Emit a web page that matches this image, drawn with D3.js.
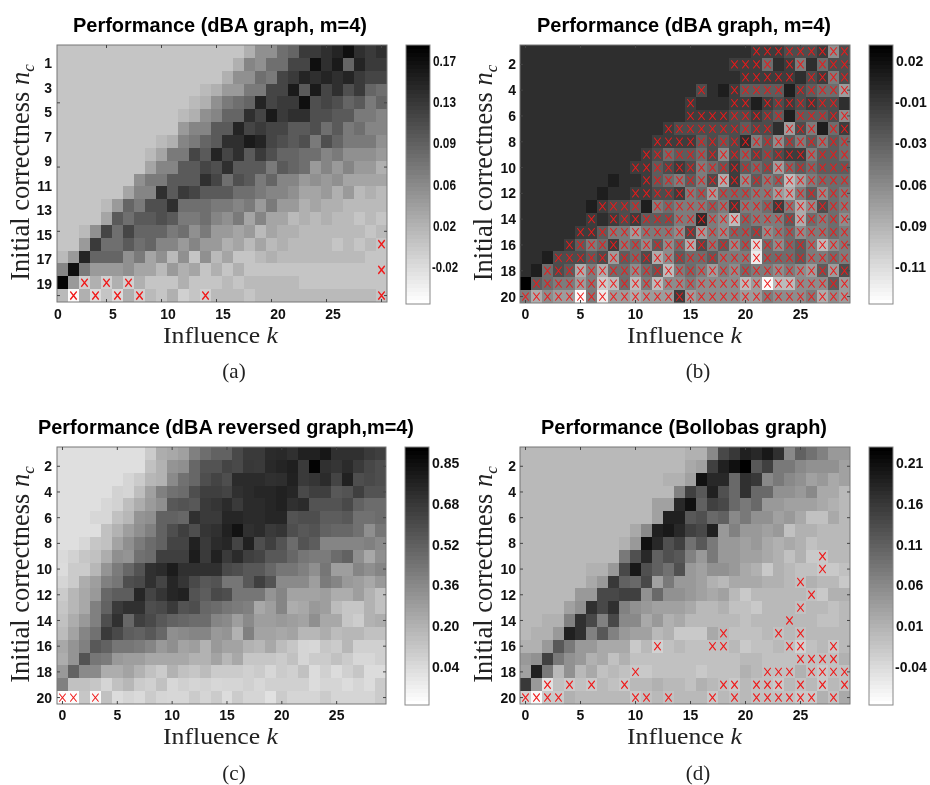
<!DOCTYPE html>
<html>
<head>
<meta charset="utf-8">
<script src="https://cdn.jsdelivr.net/npm/d3@7"></script>
<style>
  body { margin: 0; background: #fff; }
  svg { display: block; filter: blur(0.6px); }
  .tick-num { font: bold 14px "Liberation Sans", sans-serif; fill: #111; }
  .title { font: bold 20px "Liberation Sans", sans-serif; fill: #000; }
  .serif { font-family: "Liberation Serif", serif; fill: #222; }
</style>
</head>
<body>
<div id="chart"></div>
<script>
const perfA = [
  [0,0,0,0,0,0,0,0,0,0,0,0,0,0,0,0,0,2,5,5,8,9,13,13,14,15,17,14,13,14],
  [0,0,0,0,0,0,0,0,0,0,0,0,0,0,0,0,2,6,5,8,8,12,12,17,14,16,9,15,13,13],
  [0,0,0,0,0,0,0,0,0,0,0,0,0,0,0,2,5,5,8,7,12,13,15,14,15,14,15,13,12,12],
  [0,0,0,0,0,0,0,0,0,0,0,0,0,1,2,4,4,7,7,12,12,16,10,16,12,14,11,13,9,8],
  [0,0,0,0,0,0,0,0,0,0,0,0,1,2,5,7,8,9,15,12,13,13,17,11,12,11,9,10,7,9],
  [0,0,0,0,0,0,0,0,0,0,0,1,2,5,6,9,9,14,12,16,13,14,14,11,11,10,10,7,7,6],
  [0,0,0,0,0,0,0,0,0,0,0,4,6,6,10,10,15,12,13,12,12,10,10,11,8,10,7,8,6,6],
  [0,0,0,0,0,0,0,0,0,1,2,6,7,9,10,14,14,16,15,12,11,10,11,7,11,9,7,7,7,5],
  [0,0,0,0,0,0,0,0,1,3,7,7,12,10,15,12,14,10,13,11,9,9,8,8,6,7,5,5,5,4],
  [0,0,0,0,0,0,0,0,3,6,6,10,10,12,11,14,10,10,10,7,10,9,8,4,6,4,6,4,4,2],
  [0,0,0,0,0,0,0,5,7,7,10,10,10,14,12,8,11,10,7,9,6,6,4,5,4,5,3,3,3,3],
  [0,0,0,0,0,0,3,6,6,14,10,13,12,10,10,10,8,8,7,6,6,5,3,3,4,2,4,1,2,1],
  [0,0,0,0,1,4,9,7,11,11,14,8,8,8,7,7,6,7,4,7,4,4,2,3,2,2,1,1,1,1],
  [0,0,0,0,3,10,8,10,10,11,10,7,7,8,6,5,7,3,6,3,3,1,2,1,2,1,1,0,1,0],
  [0,0,1,5,12,8,12,9,9,9,7,8,5,7,4,4,3,4,1,3,2,2,1,1,1,1,1,1,0,1],
  [0,0,4,13,8,8,10,8,9,6,6,4,6,4,4,2,3,1,3,1,2,1,1,1,1,0,1,0,1,0],
  [1,4,15,9,9,9,5,7,3,5,1,5,0,5,1,3,0,0,1,2,1,1,1,1,1,1,1,1,0,0],
  [6,17,7,4,4,4,5,3,3,1,4,2,3,0,2,0,2,0,0,0,0,0,0,0,0,0,0,0,0,0],
  [18,4,-1,2,-1,2,-1,2,0,0,0,2,0,0,0,1,0,1,1,1,1,1,0,0,0,0,0,0,0,0],
  [1,-5,2,-2,0,-2,2,-1,1,0,2,-1,0,-1,1,1,1,0,1,1,1,1,1,1,1,1,1,1,1,0]
];
const perfB = [
  [0,0,0,0,0,0,0,0,0,0,0,0,0,0,0,0,0,0,0,0,0,-1,-1,-1,-2,-2,-2,-1,-6,-2],
  [0,0,0,0,0,0,0,0,0,0,0,0,0,0,0,0,0,0,0,-1,-1,-1,-4,0,-1,-5,0,-4,-2,-2],
  [0,0,0,0,0,0,0,0,0,0,0,0,0,0,0,0,0,0,0,0,-1,-1,-1,-1,-1,0,-2,-1,-5,-2],
  [0,0,0,0,0,0,0,0,0,0,0,0,0,0,0,0,-2,0,1,-1,-3,-3,-3,-3,1,-2,-3,-4,-4,-7],
  [0,0,0,0,0,0,0,0,0,0,0,0,0,0,0,-1,0,0,0,-1,-1,1,-1,-2,-1,-2,-1,-2,-2,0],
  [0,0,0,0,0,0,0,0,0,0,0,0,0,0,0,-1,-1,-1,-1,-2,-2,-1,-2,-3,1,-3,-3,-3,-2,-6],
  [0,0,0,0,0,0,0,0,0,0,0,0,0,-1,-2,-2,-2,-2,-2,-2,-3,-2,-2,0,-7,-2,-5,1,-4,-1],
  [0,0,0,0,0,0,0,0,0,0,0,0,-1,-1,-1,-1,-3,-2,-3,-2,0,-5,-3,-6,-3,-5,-3,-5,-3,-4],
  [0,0,0,0,0,0,0,0,0,0,0,-1,-2,-4,-3,-3,-4,-2,-6,-2,-4,-2,-3,-2,-1,-1,-5,-3,-3,-4],
  [0,0,0,0,0,0,0,0,0,0,-1,-1,-3,-2,-1,-2,-5,-4,-3,-1,-3,-4,-3,-7,-4,-3,-4,-3,-3,-3],
  [0,0,0,0,0,0,0,0,1,0,0,-1,-3,-4,-5,-3,-5,-2,-8,-1,-6,-3,-5,-4,-9,-7,-5,-4,-4,-4],
  [0,0,0,0,0,0,0,1,0,0,-1,-1,-2,-2,-1,-5,-4,-7,-4,-4,-4,-5,-5,-7,-8,-5,-3,-6,-4,-5],
  [0,0,0,0,0,0,1,-1,-2,-2,-3,1,-5,-4,-5,-5,-5,-4,-5,-1,-5,-5,-4,-1,-5,-8,-6,-2,-4,-5],
  [0,0,0,0,0,0,-1,0,-1,-2,-1,-3,-3,-3,-5,-5,0,-5,-6,-9,-4,-5,-5,-5,-3,-8,-4,-5,-4,-6],
  [0,0,0,0,0,-1,-1,-3,-5,-5,-7,-5,-5,-5,-6,-2,-7,-5,-6,-4,-4,-3,-6,-5,-4,-6,-5,-5,-4,-5],
  [0,0,0,0,-1,-3,-5,-4,-1,-5,-4,-6,-3,-6,-4,-8,-2,-5,-3,-6,-4,-11,-4,-6,-4,-3,-5,-9,-6,-5],
  [0,0,1,-2,-2,-2,-3,-2,-7,-3,-4,-2,-8,-6,-3,-4,-4,-3,-5,-5,-5,-12,-4,-4,-4,-3,-5,-5,-4,-5],
  [0,1,-4,-2,-3,-8,-5,-8,-4,-4,-6,-4,-3,-9,-5,-4,-5,-7,-5,-6,-4,-5,-5,-6,-5,-6,-7,-3,-7,-2],
  [3,-3,-4,-5,-5,-7,-5,-10,-9,-4,-9,-5,-9,-6,-6,-5,-6,-6,-6,-6,-9,-7,-13,-9,-9,-6,-6,-6,-3,-7],
  [-5,-8,-6,-7,-7,-13,-5,-12,-7,-7,-8,-7,-7,-7,-1,-7,-6,-6,-6,-6,-7,-7,-5,-6,-6,-6,-5,-8,-6,-7]
];
const perfC = [
  [2,2,2,2,2,2,2,2,10,22,24,27,40,47,52,52,62,68,68,74,75,72,78,78,82,72,72,72,68,66],
  [2,2,2,2,2,2,2,2,14,20,32,34,50,58,58,64,62,69,68,75,77,79,68,90,72,70,74,68,63,60],
  [2,2,2,2,2,2,6,10,18,20,36,46,50,60,64,60,74,74,74,72,73,78,68,70,74,64,78,60,62,60],
  [2,2,2,2,2,7,6,15,27,40,46,48,60,66,66,64,72,74,76,76,78,76,62,66,66,56,58,66,58,58],
  [2,2,2,2,5,7,15,22,29,34,56,58,56,68,70,74,68,74,74,76,78,72,74,58,58,58,62,52,48,48],
  [2,2,2,5,5,14,18,32,34,52,52,50,72,68,68,76,76,74,74,76,76,58,60,60,54,54,56,46,46,48],
  [2,2,2,2,14,20,28,34,40,52,60,66,60,70,72,78,84,72,74,68,70,60,56,58,52,50,50,46,34,44],
  [2,2,5,12,14,26,34,42,48,52,64,64,78,68,74,76,64,78,60,66,58,48,58,54,38,38,38,38,40,36],
  [4,7,12,14,22,34,32,46,48,66,66,66,80,68,78,68,74,66,64,56,56,50,44,42,42,48,52,34,24,34],
  [3,10,10,18,32,42,50,58,72,74,80,72,72,72,72,62,60,56,56,50,44,44,40,34,44,28,28,38,34,38],
  [6,10,22,28,40,44,60,62,72,64,76,70,62,56,58,44,44,56,66,58,36,36,36,28,42,38,30,28,24,30],
  [10,18,24,30,50,54,54,76,64,70,76,78,58,54,62,60,44,44,44,32,38,26,26,26,28,22,22,28,20,14],
  [12,18,24,40,52,68,72,72,60,62,68,58,60,50,48,44,42,40,24,28,38,22,24,30,28,16,12,12,20,14],
  [14,22,30,40,60,72,50,66,62,56,52,50,48,48,38,36,28,36,28,28,30,28,26,34,24,24,12,9,20,22],
  [16,26,38,46,68,62,54,52,56,50,34,36,38,38,30,32,20,40,26,26,24,26,18,18,22,16,18,18,14,14],
  [24,32,40,56,52,44,44,42,38,30,34,26,28,20,30,26,26,20,18,24,16,12,6,5,12,10,18,8,8,8],
  [22,32,58,44,42,30,28,28,24,24,24,24,20,20,26,18,24,12,12,12,10,14,6,10,10,14,10,5,5,8],
  [30,52,36,36,22,22,26,20,14,10,20,14,12,16,10,10,10,8,10,5,10,8,14,3,8,3,8,12,3,3],
  [40,14,14,12,6,14,18,10,8,14,5,8,6,7,5,6,6,8,5,8,8,8,8,3,6,6,3,6,3,10],
  [-10,-10,12,-8,14,3,6,4,10,6,5,5,10,6,10,3,10,6,6,1,10,6,6,6,10,6,6,6,6,10]
];
const perfD = [
  [0,0,0,0,0,0,0,0,0,0,0,0,0,0,0,1,1,6,14,16,19,18,20,17,6,11,9,7,4,4],
  [0,0,0,0,0,0,0,0,0,0,0,0,0,0,0,2,3,15,19,21,23,12,15,8,8,6,5,5,5,3],
  [0,0,0,0,0,0,0,0,0,0,0,0,0,1,1,3,21,18,18,10,17,16,6,8,6,5,3,4,2,3],
  [0,0,0,0,0,0,0,0,0,0,0,0,0,0,7,15,12,19,13,10,17,10,10,5,5,4,6,2,2,0],
  [0,0,0,0,0,0,0,0,0,0,0,0,3,3,18,21,11,15,14,10,8,10,4,4,3,3,3,2,1,0],
  [0,0,0,0,0,0,0,0,0,0,0,0,3,19,19,12,13,10,11,6,8,5,5,3,4,2,-1,-1,2,0],
  [0,0,0,0,0,0,0,0,0,0,2,6,19,20,18,15,14,19,4,7,4,4,3,4,-1,1,1,0,0,0],
  [0,0,0,0,0,0,0,0,0,1,4,21,18,13,15,9,12,8,4,4,3,4,2,1,2,1,-1,0,0,0],
  [0,0,0,0,0,0,0,0,0,8,13,18,11,13,12,7,4,8,4,4,3,3,2,1,-1,1,-2,-2,0,0],
  [0,0,0,0,0,0,1,1,4,14,20,13,11,9,13,4,3,5,5,4,2,1,-2,1,0,-1,-1,-2,-2,-1],
  [0,0,0,0,0,0,2,4,16,11,10,14,3,8,4,4,3,1,0,2,2,2,1,1,0,-1,1,0,0,-2],
  [0,0,0,0,0,4,4,14,14,15,15,5,10,5,5,4,3,2,3,0,-2,0,0,0,0,0,-1,-2,1,1],
  [0,0,0,0,3,5,17,14,17,7,5,4,3,3,3,2,0,0,1,-1,-1,-2,0,0,0,-1,0,0,-1,0],
  [0,0,1,1,7,17,14,7,14,6,6,2,4,1,2,0,0,0,0,0,-1,0,0,0,0,0,0,-1,-1,0],
  [0,1,1,4,19,17,7,12,7,4,3,3,0,1,-2,-2,-2,2,0,-1,-1,-1,0,-1,0,-1,0,0,0,0],
  [1,1,4,12,8,4,4,2,2,2,-2,0,-3,-1,0,-1,-1,-1,-1,0,-2,-1,-1,0,-1,-3,-1,0,-2,0],
  [4,5,15,8,5,4,1,2,-1,1,-1,-1,-1,-1,-1,-1,-1,-1,-1,-1,0,0,-1,-1,-1,-1,-1,-1,-1,1],
  [3,19,8,0,5,0,2,-1,0,-1,-2,-2,-1,-1,-1,-1,-2,-1,-1,-1,1,0,-1,-1,-1,1,-1,-2,-1,-1],
  [16,4,-5,-1,-2,-1,-2,0,-1,-2,0,0,1,0,0,-1,1,0,-1,-2,0,-1,-1,-2,0,-1,0,-2,0,-1],
  [-3,-8,-2,-2,1,0,0,0,0,0,-2,-1,0,-1,0,0,0,-2,0,-1,0,-1,-1,-1,-1,-2,-2,1,-1,2]
];

// cells with an x on them: one list of influence columns per row
const marksA = [[],[],[],[],[],[],[],[],[],[],[],[],[],[],[],[29],[],[29],[2,4,6],[1,3,5,7,13,29]];
const marksB = [
  [21,22,23,24,25,26,27,28,29],
  [19,20,21,22,24,25,27,28,29],
  [20,21,22,23,24,26,27,28,29],
  [16,19,20,21,22,23,25,26,27,28,29],
  [15,19,20,22,23,24,25,26,27,28],
  [15,16,17,18,19,20,21,22,23,25,26,27,28,29],
  [13,14,15,16,17,18,19,20,21,22,24,25,26,28,29],
  [12,13,14,15,16,17,18,19,20,21,22,23,24,25,26,27,28,29],
  [11,12,13,14,15,16,17,18,19,20,21,22,23,24,25,26,27,28,29],
  [10,11,12,13,14,15,16,17,18,19,20,21,22,23,24,25,26,27,28,29],
  [11,12,13,14,15,16,17,18,19,20,21,22,23,24,25,26,27,28,29],
  [10,11,12,13,14,15,16,17,18,19,20,21,22,23,24,25,26,27,28,29],
  [7,8,9,10,12,13,14,15,16,17,18,19,20,21,22,23,24,25,26,27,28,29],
  [6,8,9,10,11,12,13,14,15,16,17,18,19,20,21,22,23,24,25,26,27,28,29],
  [5,6,7,8,9,10,11,12,13,14,15,16,17,18,19,20,21,22,23,24,25,26,27,28,29],
  [4,5,6,7,8,9,10,11,12,13,14,15,16,17,18,19,20,21,22,23,24,25,26,27,28,29],
  [3,4,5,6,7,8,9,10,11,12,13,14,15,16,17,18,19,20,21,22,23,24,25,26,27,28,29],
  [2,3,4,5,6,7,8,9,10,11,12,13,14,15,16,17,18,19,20,21,22,23,24,25,26,27,28,29],
  [1,2,3,4,5,6,7,8,9,10,11,12,13,14,15,16,17,18,19,20,21,22,23,24,25,26,27,28,29],
  [0,1,2,3,4,5,6,7,8,9,10,11,12,13,14,15,16,17,18,19,20,21,22,23,24,25,26,27,28,29]
];
const marksC = [[],[],[],[],[],[],[],[],[],[],[],[],[],[],[],[],[],[],[],[0,1,3]];
const marksD = [
  [],[],[],[],[],[],[],[],[27],[27],[25],[26],[25],[24],[18,23,25],[12,17,18,24,25,28],[25,26,27,28],
  [10,22,23,24,26,27,28,29],
  [2,4,6,9,18,19,21,22,23,25,27,29],
  [0,1,2,3,10,11,13,17,19,21,22,23,24,25,26,28]
];

const titles = ["Performance (dBA graph, m=4)", "Performance (dBA graph, m=4)", "Performance (dBA reversed graph,m=4)", "Performance (Bollobas graph)"];
const captions = ["(a)", "(b)", "(c)", "(d)"];
const xTickLabels = [0, 5, 10, 15, 20, 25];
const yTicksOdd = [1, 3, 5, 7, 9, 11, 13, 15, 17, 19];
const yTicksEven = [2, 4, 6, 8, 10, 12, 14, 16, 18, 20];
const barLabelsA = ["0.17", "0.13", "0.09", "0.06", "0.02", "-0.02"];
const barLabelsB = ["0.02", "-0.01", "-0.03", "-0.06", "-0.09", "-0.11"];
const barLabelsC = ["0.85", "0.68", "0.52", "0.36", "0.20", "0.04"];
const barLabelsD = ["0.21", "0.16", "0.11", "0.06", "0.01", "-0.04"];
const rangeA = [-0.054, 0.184];
const rangeB = [-0.133, 0.029];
const rangeC = [-0.11, 0.9135];
const rangeD = [-0.087, 0.23];

const svg = d3.select("#chart").append("svg").attr("width", 930).attr("height", 785);

const panels = [
  { values: perfA, marks: marksA, title: titles[0], caption: captions[0], barLabels: barLabelsA, range: rangeA, yTicks: yTicksOdd,
    x0: 57, x1: 387, y0: 45, y1: 302, barX: 406, barY0: 45, barY1: 304, barTick0: 61, barTick1: 267, barText: 433,
    titleX0: 73, titleLen: 294, titleY: 32, xLabX: 163, xLabY: 343, yLabX: 29, capX: 234, capY: 378, tickRight: 52, xTickY: 319,
    offset: true, crossW: 1.6, narrowBar: true },
  { values: perfB, marks: marksB, title: titles[1], caption: captions[1], barLabels: barLabelsB, range: rangeB, yTicks: yTicksEven,
    x0: 520, x1: 850, y0: 45, y1: 303, barX: 869, barY0: 45, barY1: 304, barTick0: 61, barTick1: 267, barText: 896,
    titleX0: 537, titleLen: 294, titleY: 32, xLabX: 627, xLabY: 343, yLabX: 492, capX: 698, capY: 378, tickRight: 516, xTickY: 319, crossW: 1.1 },
  { values: perfC, marks: marksC, title: titles[2], caption: captions[2], barLabels: barLabelsC, range: rangeC, yTicks: yTicksEven,
    x0: 57, x1: 386, y0: 447, y1: 704, barX: 405, barY0: 447, barY1: 705, barTick0: 463, barTick1: 667, barText: 432,
    titleX0: 38, titleLen: 376, titleY: 434, xLabX: 163, xLabY: 744, yLabX: 29, capX: 234, capY: 780, tickRight: 52, xTickY: 720, crossW: 1.1 },
  { values: perfD, marks: marksD, title: titles[3], caption: captions[3], barLabels: barLabelsD, range: rangeD, yTicks: yTicksEven,
    x0: 520, x1: 850, y0: 447, y1: 704, barX: 869, barY0: 447, barY1: 705, barTick0: 463, barTick1: 667, barText: 896,
    titleX0: 541, titleLen: 286, titleY: 434, xLabX: 627, xLabY: 744, yLabX: 492, capX: 698, capY: 780, tickRight: 516, xTickY: 720, crossW: 1.3 }
];

panels.forEach(drawPanel);

function drawPanel(p) {
  const g = svg.append("g");
  const nCols = p.values[0].length;
  const xBand = d3.scaleBand().domain(d3.range(nCols)).range([p.x0, p.x1]);
  const yBand = d3.scaleBand().domain(d3.range(1, p.values.length + 1)).range([p.y0, p.y1]);
  const color = d3.scaleLinear().domain(p.range).range(["#fff", "#000"]).clamp(true);

  const cells = p.values.flatMap((row, r) => row.map((v, k) => ({ k, nc: r + 1, v: v / 100 })));
  g.selectAll("rect.cell")
    .data(cells)
    .join("rect")
    .attr("class", "cell")
    .attr("x", d => xBand(d.k))
    .attr("y", d => yBand(d.nc))
    .attr("width", xBand.bandwidth())
    .attr("height", yBand.bandwidth())
    .attr("shape-rendering", "crispEdges")
    .attr("fill", d => color(d.v));

  // red x on the cells
  const cross = d3.symbol().type(d3.symbolTimes).size(44);
  const crossData = p.marks.flatMap((cols, r) => cols.map(k => ({ k, nc: r + 1 })));
  g.selectAll("path.mark")
    .data(crossData)
    .join("path")
    .attr("class", "mark")
    .attr("d", cross)
    .attr("fill", "none")
    .attr("stroke", "#f01818")
    .attr("stroke-width", p.crossW)
    .attr("transform", d => `translate(${xBand(d.k) + xBand.bandwidth() / 2},${yBand(d.nc) + yBand.bandwidth() / 2}) scale(0.8,1)`);

  // frame and short inside ticks
  g.append("rect")
    .attr("x", p.x0).attr("y", p.y0)
    .attr("width", p.x1 - p.x0).attr("height", p.y1 - p.y0)
    .attr("fill", "none").attr("stroke", "#777");

  const tickXs = p.offset ? [4, 9, 14, 19, 24, 29] : xTickLabels;
  const tickYs = p.offset ? [5, 10, 15, 20] : p.yTicks;
  const ticks = g.append("g").attr("stroke", "#444");
  tickXs.forEach(k => {
    const x = xBand(k) + xBand.bandwidth() / 2;
    ticks.append("line").attr("x1", x).attr("x2", x).attr("y1", p.y0).attr("y2", p.y0 + 3);
    ticks.append("line").attr("x1", x).attr("x2", x).attr("y1", p.y1).attr("y2", p.y1 - 3);
  });
  tickYs.forEach(n => {
    const y = yBand(n) + yBand.bandwidth() / 2;
    ticks.append("line").attr("x1", p.x0).attr("x2", p.x0 + 3).attr("y1", y).attr("y2", y);
    ticks.append("line").attr("x1", p.x1).attr("x2", p.x1 - 3).attr("y1", y).attr("y2", y);
  });

  // tick labels; panel (a) has them shifted away from the ticks
  const xLabelPos = p.offset
    ? d3.scaleLinear().domain([0, 30]).range([p.x0 + 1, p.x1 + 1])
    : (k => xBand(k) + xBand.bandwidth() / 2);
  const yLabelPos = p.offset
    ? d3.scaleLinear().domain([1, 19]).range([63, 283.5])
    : (n => yBand(n) + yBand.bandwidth() / 2);

  g.selectAll("text.xt")
    .data(xTickLabels)
    .join("text")
    .attr("class", "xt tick-num")
    .attr("x", d => xLabelPos(d))
    .attr("y", p.xTickY)
    .attr("text-anchor", "middle")
    .text(d => d);
  g.selectAll("text.yt")
    .data(p.yTicks)
    .join("text")
    .attr("class", "yt tick-num")
    .attr("x", p.tickRight)
    .attr("y", d => yLabelPos(d))
    .attr("dy", "0.36em")
    .attr("text-anchor", "end")
    .text(d => d);

  // title and axis names
  g.append("text")
    .attr("class", "title")
    .attr("x", p.titleX0).attr("y", p.titleY)
    .attr("textLength", p.titleLen).attr("lengthAdjust", "spacingAndGlyphs")
    .text(p.title);

  const xLab = g.append("text")
    .attr("class", "serif")
    .attr("x", p.xLabX).attr("y", p.xLabY)
    .attr("font-size", 24)
    .attr("textLength", 115)
    .attr("lengthAdjust", "spacingAndGlyphs");
  xLab.append("tspan").text("Influence ");
  xLab.append("tspan").attr("font-style", "italic").text("k");

  const yMid = (p.y0 + p.y1) / 2 - 1;
  const yLab = g.append("text")
    .attr("class", "serif")
    .attr("font-size", 26.5)
    .attr("text-anchor", "middle")
    .attr("transform", `translate(${p.yLabX},${yMid}) rotate(-90)`);
  yLab.append("tspan").text("Initial correctness ");
  yLab.append("tspan").attr("font-style", "italic").text("n");
  yLab.append("tspan").attr("font-style", "italic").attr("font-size", 17).attr("dy", 5).text("c");

  g.append("text")
    .attr("class", "serif")
    .attr("x", p.capX).attr("y", p.capY)
    .attr("font-size", 21)
    .attr("text-anchor", "middle")
    .text(p.caption);

  // colorbar
  const barW = 24;
  const steps = d3.range(64).map(i => p.range[0] + (p.range[1] - p.range[0]) * i / 63);
  const barBand = d3.scaleBand().domain(steps).range([p.barY1, p.barY0]);
  g.selectAll("rect.bar")
    .data(steps)
    .join("rect")
    .attr("class", "bar")
    .attr("x", p.barX)
    .attr("y", d => barBand(d))
    .attr("width", barW)
    .attr("height", barBand.bandwidth())
    .attr("shape-rendering", "crispEdges")
    .attr("fill", d => color(d));
  g.append("rect")
    .attr("x", p.barX).attr("y", p.barY0)
    .attr("width", barW).attr("height", p.barY1 - p.barY0)
    .attr("fill", "none").attr("stroke", "#888");

  const barTicks = d3.scalePoint().domain(p.barLabels).range([p.barTick0, p.barTick1]);
  p.barLabels.forEach(lab => {
    const y = barTicks(lab);
    ticks.append("line").attr("x1", p.barX).attr("x2", p.barX + 3).attr("y1", y).attr("y2", y);
    ticks.append("line").attr("x1", p.barX + barW).attr("x2", p.barX + barW - 3).attr("y1", y).attr("y2", y);
  });
  const barText = g.selectAll("text.bt")
    .data(p.barLabels)
    .join("text")
    .attr("class", "bt tick-num")
    .attr("x", d => d.startsWith("-") ? p.barText - 1 : p.barText)
    .attr("y", d => barTicks(d))
    .attr("dy", "0.36em")
    .text(d => d);
  if (p.narrowBar) {
    barText.attr("textLength", d => d.startsWith("-") ? 26 : 23).attr("lengthAdjust", "spacingAndGlyphs");
  }
}
</script>
</body>
</html>
